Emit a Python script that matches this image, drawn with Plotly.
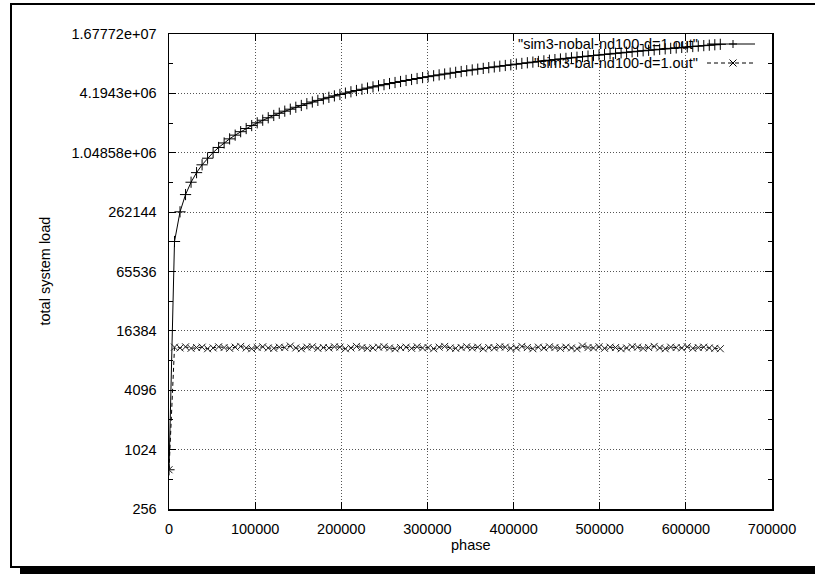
import plotly.graph_objects as go

phase = [
    0, 6400, 12800, 19200, 25600, 32000, 38400, 44800, 51200, 57600,
    64000, 70400, 76800, 83200, 89600, 96000, 102400, 108800, 115200, 121600,
    128000, 134400, 140800, 147200, 153600, 160000, 166400, 172800, 179200, 185600,
    192000, 198400, 204800, 211200, 217600, 224000, 230400, 236800, 243200, 249600,
    256000, 262400, 268800, 275200, 281600, 288000, 294400, 300800, 307200, 313600,
    320000, 326400, 332800, 339200, 345600, 352000, 358400, 364800, 371200, 377600,
    384000, 390400, 396800, 403200, 409600, 416000, 422400, 428800, 435200, 441600,
    448000, 454400, 460800, 467200, 473600, 480000, 486400, 492800, 499200, 505600,
    512000, 518400, 524800, 531200, 537600, 544000, 550400, 556800, 563200, 569600,
    576000, 582400, 588800, 595200, 601600, 608000, 614400, 620800, 627200, 633600,
    640000,
]

nobal_load = [
    640, 132000, 264000, 395000, 527000, 659000, 791000, 923000, 1055000, 1186000,
    1318000, 1450000, 1582000, 1714000, 1846000, 1978000, 2109000, 2241000, 2373000, 2505000,
    2637000, 2769000, 2900000, 3032000, 3164000, 3296000, 3428000, 3560000, 3692000, 3823000,
    3955000, 4087000, 4219000, 4351000, 4483000, 4614000, 4746000, 4878000, 5010000, 5142000,
    5274000, 5405000, 5537000, 5669000, 5801000, 5933000, 6065000, 6196000, 6328000, 6460000,
    6592000, 6724000, 6856000, 6988000, 7119000, 7251000, 7383000, 7515000, 7647000, 7779000,
    7910000, 8042000, 8174000, 8306000, 8438000, 8570000, 8701000, 8833000, 8965000, 9097000,
    9229000, 9361000, 9492000, 9624000, 9756000, 9888000, 10020000, 10152000, 10284000, 10415000,
    10547000, 10679000, 10811000, 10943000, 11075000, 11206000, 11338000, 11470000, 11602000, 11734000,
    11866000, 11997000, 12129000, 12261000, 12393000, 12525000, 12657000, 12788000, 12920000, 13052000,
    13184000,
]

bal_load = [
    640, 11200, 11000, 11300, 10900, 11100, 11200, 10800, 11000, 11300,
    11100, 10900, 11200, 11400, 11000, 10800, 11100, 11300, 11000, 10900,
    11200, 11100, 11500, 11000, 10800, 11200, 11300, 10900, 11100, 11000,
    11300, 11200, 10800, 11000, 11400, 11100, 10900, 11000, 11200, 11300,
    11000, 10800, 11100, 11200, 10900, 11300, 11000, 11100, 10800, 11200,
    11400, 11000, 10900, 11100, 11300, 11000, 11200, 10800, 11100, 11000,
    11300, 11200, 10900, 11000, 11400, 11100, 10800, 11200, 11000, 11300,
    11100, 10900, 11200, 11000, 10800, 11500, 11100, 11000, 11300, 10900,
    11200, 11100, 10800, 11000, 11300, 11200, 10900, 11100, 11400, 11000,
    10800, 11200, 11100, 11000, 11300, 10900, 11100, 11200, 11000, 10900,
    10800,
]

series_names = ['"sim3-nobal-nd100-d=1.out"', '"sim3-bal-nd100-d=1.out"']

x_ticks = [0, 100000, 200000, 300000, 400000, 500000, 600000, 700000]
x_ticklabels = ["0", "100000", "200000", "300000", "400000", "500000", "600000", "700000"]
y_ticks = [256, 1024, 4096, 16384, 65536, 262144, 1048576, 4194304, 16777216]
y_ticklabels = ["256", "1024", "4096", "16384", "65536", "262144",
                "1.04858e+06", "4.1943e+06", "1.67772e+07"]
y_minor = [512, 2048, 8192, 32768, 131072, 524288, 2097152, 8388608]

FONT = "Liberation Sans, Arial, Helvetica, sans-serif"
FS = 14.5

W, H = 815, 574
L, R, T, B = 169, 43, 34, 65
PW, PH = W - L - R, H - T - B


def px(xp):
    return (xp - L) / PW


def py(yp):
    return (H - B - yp) / PH


fig = go.Figure()
fig.add_trace(go.Scatter(
    x=phase, y=nobal_load, mode="lines+markers", name=series_names[0],
    line=dict(color="black", width=1),
    marker=dict(symbol="cross-thin", size=8, line=dict(color="black", width=1)),
))
fig.add_trace(go.Scatter(
    x=phase, y=bal_load, mode="lines+markers", name=series_names[1],
    line=dict(color="black", width=1, dash="4px,3px"),
    marker=dict(symbol="x-thin", size=7, line=dict(color="#222", width=1)),
))

grid = dict(showgrid=True, gridcolor="#555", griddash="1px,2px", gridwidth=1)

fig.update_xaxes(
    range=[0, 700000], tickmode="array", tickvals=x_ticks, ticktext=x_ticklabels,
    ticks="inside", ticklen=7, tickcolor="black", mirror="allticks",
    showline=True, linecolor="black", linewidth=1.5, zeroline=False,
    ticklabelstandoff=6,
    tickfont=dict(family=FONT, size=FS, color="black"), **grid,
)
fig.update_yaxes(
    type="log", range=[2.4082399653, 7.2247198959], tickmode="array",
    tickvals=y_ticks, ticktext=y_ticklabels,
    ticks="inside", ticklen=7, tickcolor="black", mirror="allticks",
    showline=True, linecolor="black", linewidth=1.5, zeroline=False,
    ticklabelstandoff=8,
    minor=dict(tickmode="array", tickvals=y_minor, ticks="inside", ticklen=4,
               tickcolor="black", showgrid=False),
    tickfont=dict(family=FONT, size=FS, color="black"), **grid,
)

shapes = []
# outer frame with shadow
shapes.append(dict(type="rect", xref="paper", yref="paper",
                   x0=px(20), x1=px(840), y0=py(600), y1=py(567),
                   fillcolor="black", line=dict(width=0), layer="above"))
shapes.append(dict(type="rect", xref="paper", yref="paper",
                   x0=px(11), x1=px(830), y0=py(567), y1=py(4),
                   line=dict(color="black", width=2), layer="above"))
# legend samples
ly1, ly2 = 44, 63
sx0, sx1, sm = 707, 755, 733
shapes.append(dict(type="line", xref="paper", yref="paper", x0=px(sx0), x1=px(sx1),
                   y0=py(ly1), y1=py(ly1), line=dict(color="black", width=1)))
shapes.append(dict(type="line", xref="paper", yref="paper", x0=px(sm - 4), x1=px(sm + 4),
                   y0=py(ly1), y1=py(ly1), line=dict(color="black", width=1)))
shapes.append(dict(type="line", xref="paper", yref="paper", x0=px(sm), x1=px(sm),
                   y0=py(ly1 - 4), y1=py(ly1 + 4), line=dict(color="black", width=1)))
shapes.append(dict(type="line", xref="paper", yref="paper", x0=px(sx0), x1=px(sx1),
                   y0=py(ly2), y1=py(ly2), line=dict(color="black", width=1, dash="4px,3px")))
shapes.append(dict(type="line", xref="paper", yref="paper", x0=px(sm - 3.5), x1=px(sm + 3.5),
                   y0=py(ly2 - 3.5), y1=py(ly2 + 3.5), line=dict(color="black", width=1)))
shapes.append(dict(type="line", xref="paper", yref="paper", x0=px(sm - 3.5), x1=px(sm + 3.5),
                   y0=py(ly2 + 3.5), y1=py(ly2 - 3.5), line=dict(color="black", width=1)))

annotations = [
    dict(text=series_names[0], xref="paper", yref="paper", x=px(700), y=py(ly1),
         xanchor="right", yanchor="middle", showarrow=False,
         font=dict(family=FONT, size=FS, color="black")),
    dict(text=series_names[1], xref="paper", yref="paper", x=px(700), y=py(ly2),
         xanchor="right", yanchor="middle", showarrow=False,
         font=dict(family=FONT, size=FS, color="black")),
    dict(text="total system load", xref="paper", yref="paper", x=px(44), y=0.5,
         xanchor="center", yanchor="middle", textangle=-90, showarrow=False,
         font=dict(family=FONT, size=FS, color="black")),
    dict(text="phase", xref="paper", yref="paper", x=0.5, y=py(545),
         xanchor="center", yanchor="middle", showarrow=False,
         font=dict(family=FONT, size=FS, color="black")),
]

fig.update_layout(
    width=W, height=H, autosize=False,
    margin=dict(l=L, r=R, t=T, b=B, pad=0),
    paper_bgcolor="white", plot_bgcolor="white",
    showlegend=False, shapes=shapes, annotations=annotations,
    font=dict(family=FONT, size=FS, color="black"),
)

fig.write_html(
    "out.html",
    config={"displayModeBar": False, "staticPlot": True},
    post_script="document.documentElement.style.overflow='hidden';"
                "document.body.style.margin='0';document.body.style.overflow='hidden';",
)
